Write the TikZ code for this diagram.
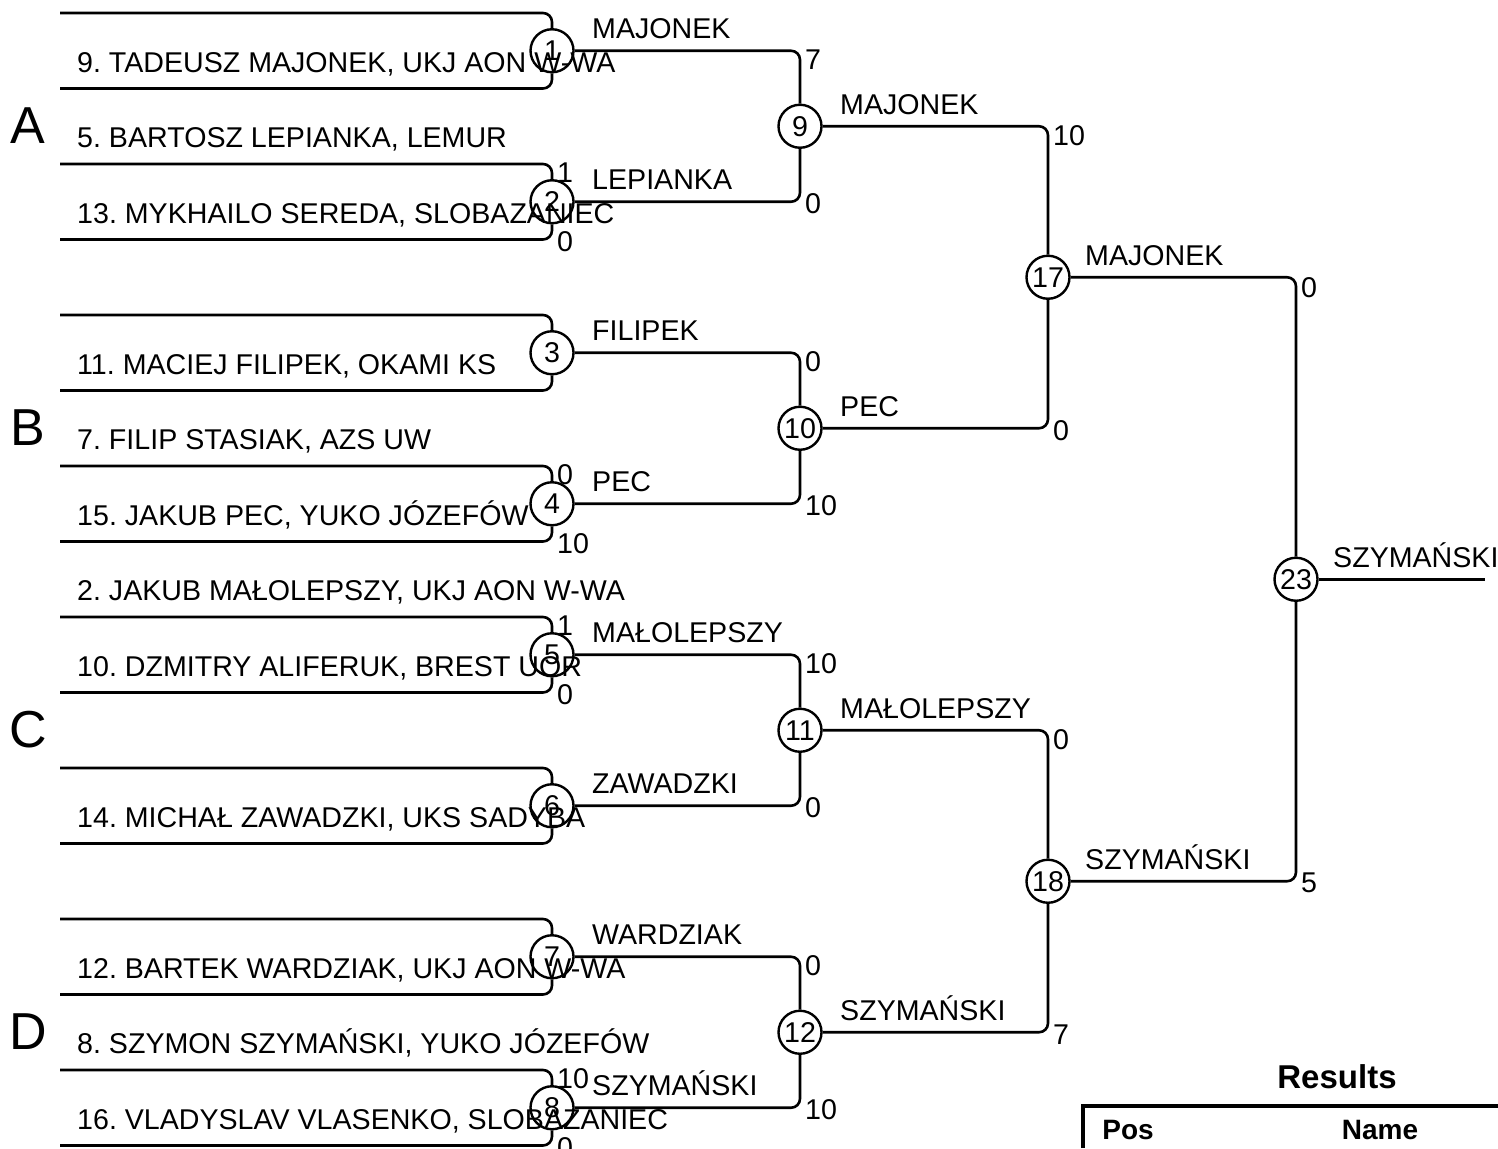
\documentclass[tikz,border=0pt]{standalone}
\usepackage{fontspec}
\setmainfont{Liberation Sans}
\frenchspacing
\begin{document}
\begin{tikzpicture}[x=1pt,y=-1pt,
  br/.style={line width=2.6pt,rounded corners=9pt},
  circ/.style={circle,draw,line width=2.4pt,minimum size=43pt,inner sep=0pt,font=\fontsize{28.6}{30}\selectfont},
  player/.style={anchor=base west,inner sep=0pt,font=\fontsize{28.6}{30}\selectfont},
  win/.style={anchor=base west,inner sep=0pt,font=\fontsize{28.6}{30}\selectfont},
  score/.style={anchor=west,inner sep=0pt,font=\fontsize{28.6}{30}\selectfont},
  grp/.style={anchor=center,inner sep=0pt,font=\fontsize{52}{54}\selectfont},
  hdr/.style={anchor=center,inner sep=0pt,font=\fontsize{28}{30}\selectfont\bfseries}]
\useasboundingbox (0,0) rectangle (1498,1148);

% slot line left ends
\foreach \k in {0,...,15}{
  \coordinate (s\k) at (60,{13+75.5*\k});
}

% round 1 circles
\node[circ] (m1) at (552,50.75) {1};
\node[circ] (m2) at (552,201.75) {2};
\node[circ] (m3) at (552,352.75) {3};
\node[circ] (m4) at (552,503.75) {4};
\node[circ] (m5) at (552,654.75) {5};
\node[circ] (m6) at (552,805.75) {6};
\node[circ] (m7) at (552,956.75) {7};
\node[circ] (m8) at (552,1107.75) {8};
% round 2
\node[circ] (m9) at (800,126.25) {9};
\node[circ] (m10) at (800,428.25) {10};
\node[circ] (m11) at (800,730.25) {11};
\node[circ] (m12) at (800,1032.25) {12};
% round 3
\node[circ] (m17) at (1048,277.25) {17};
\node[circ] (m18) at (1048,881.25) {18};
% final
\node[circ] (m23) at (1296,579.25) {23};
\coordinate (fin) at (1485,579.25);

% round 1 brackets
\draw[br] (s0) -| (m1.north);  \draw[br] (s1) -| (m1.south);
\draw[br] (s2) -| (m2.north);  \draw[br] (s3) -| (m2.south);
\draw[br] (s4) -| (m3.north);  \draw[br] (s5) -| (m3.south);
\draw[br] (s6) -| (m4.north);  \draw[br] (s7) -| (m4.south);
\draw[br] (s8) -| (m5.north);  \draw[br] (s9) -| (m5.south);
\draw[br] (s10) -| (m6.north); \draw[br] (s11) -| (m6.south);
\draw[br] (s12) -| (m7.north); \draw[br] (s13) -| (m7.south);
\draw[br] (s14) -| (m8.north); \draw[br] (s15) -| (m8.south);
% round 2
\draw[br] (m1.east) -| (m9.north);   \draw[br] (m2.east) -| (m9.south);
\draw[br] (m3.east) -| (m10.north);  \draw[br] (m4.east) -| (m10.south);
\draw[br] (m5.east) -| (m11.north);  \draw[br] (m6.east) -| (m11.south);
\draw[br] (m7.east) -| (m12.north);  \draw[br] (m8.east) -| (m12.south);
% round 3
\draw[br] (m9.east) -| (m17.north);  \draw[br] (m10.east) -| (m17.south);
\draw[br] (m11.east) -| (m18.north); \draw[br] (m12.east) -| (m18.south);
% final
\draw[br] (m17.east) -| (m23.north); \draw[br] (m18.east) -| (m23.south);
\draw[br] (m23.east) -- (fin);

% players
\node[player] (p1) at (77,72) {9. TADEUSZ MAJONEK, UKJ AON W-WA};
\node[player] (p2) at (77,147.5) {5. BARTOSZ LEPIANKA, LEMUR};
\node[player] (p3) at (77,223) {13. MYKHAILO SEREDA, SLOBAZANIEC};
\node[player] (p4) at (77,374) {11. MACIEJ FILIPEK, OKAMI KS};
\node[player] (p5) at (77,449.5) {7. FILIP STASIAK, AZS UW};
\node[player] (p6) at (77,525) {15. JAKUB PEC, YUKO JÓZEFÓW};
\node[player] (p7) at (77,600.5) {2. JAKUB MAŁOLEPSZY, UKJ AON W-WA};
\node[player] (p8) at (77,676) {10. DZMITRY ALIFERUK, BREST UOR};
\node[player] (p9) at (77,827) {14. MICHAŁ ZAWADZKI, UKS SADYBA};
\node[player] (p10) at (77,978) {12. BARTEK WARDZIAK, UKJ AON W-WA};
\node[player] (p11) at (77,1053.5) {8. SZYMON SZYMAŃSKI, YUKO JÓZEFÓW};
\node[player] (p12) at (77,1129) {16. VLADYSLAV VLASENKO, SLOBAZANIEC};

% group letters
\node[grp] (gA) at (28,126) {A};
\node[grp] (gB) at (28,428) {B};
\node[grp] (gC) at (28,730) {C};
\node[grp] (gD) at (28,1032) {D};

% winners round 1
\node[win] (w1) at (592,38.75) {MAJONEK};
\node[win] (w2) at (592,189.75) {LEPIANKA};
\node[win] (w3) at (592,340.75) {FILIPEK};
\node[win] (w4) at (592,491.75) {PEC};
\node[win] (w5) at (592,642.75) {MAŁOLEPSZY};
\node[win] (w6) at (592,793.75) {ZAWADZKI};
\node[win] (w7) at (592,944.75) {WARDZIAK};
\node[win] (w8) at (592,1095.75) {SZYMAŃSKI};
% winners round 2
\node[win] (w9) at (840,114.25) {MAJONEK};
\node[win] (w10) at (840,416.25) {PEC};
\node[win] (w11) at (840,718.25) {MAŁOLEPSZY};
\node[win] (w12) at (840,1020.25) {SZYMAŃSKI};
% winners round 3
\node[win] (w17) at (1085,265.25) {MAJONEK};
\node[win] (w18) at (1085,869.25) {SZYMAŃSKI};
% champion
\node[win] (w23) at (1333,567.25) {SZYMAŃSKI};

% scores round 1
\node[score] (sc2a) at (557,173) {1};
\node[score] (sc2b) at (557,241.5) {0};
\node[score] (sc4a) at (557,475) {0};
\node[score] (sc4b) at (557,543.5) {10};
\node[score] (sc5a) at (557,626) {1};
\node[score] (sc5b) at (557,694.5) {0};
\node[score] (sc8a) at (557,1079) {10};
\node[score] (sc8b) at (557,1147.5) {0};
% scores round 2
\node[score] (sc9a) at (805,59.75) {7};
\node[score] (sc9b) at (805,203.75) {0};
\node[score] (sc10a) at (805,361.75) {0};
\node[score] (sc10b) at (805,505.75) {10};
\node[score] (sc11a) at (805,663.75) {10};
\node[score] (sc11b) at (805,807.75) {0};
\node[score] (sc12a) at (805,965.75) {0};
\node[score] (sc12b) at (805,1109.75) {10};
% scores round 3
\node[score] (sc17a) at (1053,135.25) {10};
\node[score] (sc17b) at (1053,430.25) {0};
\node[score] (sc18a) at (1053,739.25) {0};
\node[score] (sc18b) at (1053,1034.25) {7};
% scores final
\node[score] (sc23a) at (1301,287.25) {0};
\node[score] (sc23b) at (1301,883.25) {5};

% results table
\node[anchor=center,inner sep=0pt,font=\fontsize{33}{35}\selectfont\bfseries] (res) at (1337,1077) {Results};
\coordinate (tbl) at (1083,1148);
\coordinate (tcor) at (1083,1106);
\coordinate (tr) at (1500,1106);
\draw[line width=4pt] (tbl) -- (tcor) -- (tr);
\node[hdr] (hpos) at (1128,1130) {Pos};
\node[hdr] (hname) at (1380,1130) {Name};
\end{tikzpicture}
\end{document}
